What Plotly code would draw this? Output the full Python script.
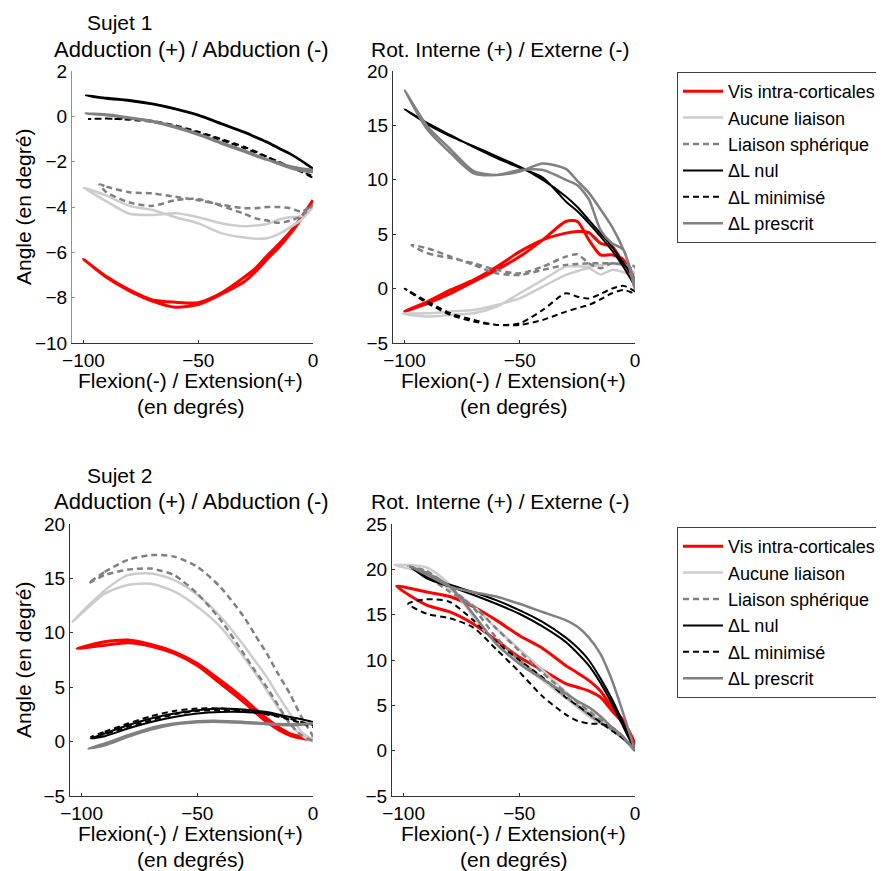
import plotly.graph_objects as go

# ---------------- data ----------------
SERIES = ["Vis intra-corticales", "Aucune liaison", "Liaison sphérique",
          "\u0394L nul", "\u0394L minimisé", "\u0394L prescrit"]
X_GRID = [-90, -80, -70, -60, -50, -40, -30, -25, -20, -15, -10, -5, 0]

# Sujet 1 - Adduction / Abduction   (start x, start y, branch A, branch B)
S1_ADD_START_X = [-100, -100, -93, -99, -98, -99]
S1_ADD_START_Y = [-6.3, -3.15, -3.0, 0.92, -0.12, 0.12]
S1_ADD_VIS_A = [-7.07, -7.66, -8.1, -8.2, -8.22, -7.8, -7.1, -6.7, -6.15, -5.65, -5.1, -4.45, -3.7]
S1_ADD_VIS_B = [-7.1, -7.7, -8.15, -8.42, -8.3, -7.85, -7.3, -6.85, -6.3, -5.8, -5.2, -4.5, -3.7]
S1_ADD_AUC_A = [-3.75, -4.3, -4.35, -4.28, -4.45, -4.72, -4.85, -4.82, -4.75, -4.55, -4.45, -4.4, -4.0]
S1_ADD_AUC_B = [-3.5, -3.95, -4.13, -4.45, -4.72, -5.15, -5.35, -5.4, -5.38, -5.2, -4.9, -4.55, -4.0]
S1_ADD_SPH_A = [-3.1, -3.35, -3.4, -3.55, -3.7, -3.9, -4.05, -4.05, -4.0, -4.0, -4.05, -4.2, -3.9]
S1_ADD_SPH_B = [-3.35, -3.8, -3.95, -3.7, -3.65, -3.95, -4.3, -4.5, -4.6, -4.7, -4.6, -4.4, -3.9]
S1_ADD_NUL_A = [0.82, 0.72, 0.57, 0.35, 0.07, -0.3, -0.68, -0.9, -1.12, -1.38, -1.63, -1.95, -2.3]
S1_ADD_NUL_B = [0.78, 0.68, 0.53, 0.31, 0.03, -0.34, -0.72, -0.94, -1.16, -1.42, -1.67, -1.98, -2.32]
S1_ADD_MIN_A = [-0.1, -0.12, -0.2, -0.4, -0.68, -1.0, -1.34, -1.55, -1.78, -2.0, -2.22, -2.45, -2.7]
S1_ADD_MIN_B = [-0.1, -0.15, -0.25, -0.45, -0.72, -1.05, -1.4, -1.6, -1.8, -2.02, -2.25, -2.45, -2.65]
S1_ADD_PRE_A = [0.05, -0.08, -0.24, -0.5, -0.82, -1.2, -1.56, -1.75, -1.92, -2.05, -2.2, -2.3, -2.37]
S1_ADD_PRE_B = [0.08, -0.05, -0.2, -0.45, -0.78, -1.15, -1.5, -1.7, -1.9, -2.1, -2.28, -2.4, -2.45]

# Sujet 1 - Rotation interne / externe
S1_ROT_START_X = [-100, -101, -97, -100, -100, -100]
S1_ROT_START_Y = [-2.1, -2.3, 4.0, 16.5, 0.0, 18.25]
S1_ROT_VIS_A = [-1.2, -0.12, 0.8, 2.0, 3.4, 4.48, 5.1, 5.25, 5.15, 4.17, 3.87, 2.33, 1.1]
S1_ROT_VIS_B = [-1.35, -0.43, 0.64, 1.72, 2.94, 4.48, 6.17, 6.17, 4.48, 3.1, 3.1, 2.64, 0.2]
S1_ROT_AUC_A = [-2.27, -2.1, -1.96, -1.5, -0.9, 0.18, 1.26, 1.6, 1.87, 1.3, 1.72, 1.5, 1.1]
S1_ROT_AUC_B = [-2.57, -2.42, -2.27, -1.66, -0.43, 0.8, 2.02, 2.05, 2.02, 2.15, 2.33, 2.1, 1.4]
S1_ROT_SPH_A = [3.25, 2.8, 2.33, 1.72, 1.4, 2.02, 2.94, 3.15, 2.33, 1.87, 2.33, 2.2, 1.72]
S1_ROT_SPH_B = [3.7, 2.94, 2.18, 1.4, 1.26, 1.72, 2.18, 2.25, 2.33, 2.33, 2.33, 2.2, 2.02]
S1_ROT_NUL_A = [15.1, 14.0, 13.1, 12.15, 11.2, 10.0, 8.47, 7.5, 6.3, 5.1, 3.87, 2.33, 0.8]
S1_ROT_NUL_B = [15.2, 14.1, 13.0, 12.0, 11.1, 10.2, 8.0, 7.1, 6.0, 4.8, 3.5, 2.0, 0.3]
S1_ROT_MIN_A = [-1.2, -2.27, -2.88, -3.34, -3.19, -1.96, -0.43, -0.74, -0.9, -0.5, 0.0, 0.25, -0.28]
S1_ROT_MIN_B = [-1.35, -2.42, -3.03, -3.34, -3.34, -2.88, -2.12, -1.8, -1.5, -1.0, -0.43, -0.12, -0.43]
S1_ROT_PRE_A = [14.9, 12.8, 10.8, 10.45, 10.77, 11.5, 11.0, 9.9, 8.8, 7.3, 5.7, 3.56, 0.5]
S1_ROT_PRE_B = [14.6, 12.45, 10.6, 10.45, 10.9, 10.9, 10.0, 9.5, 8.2, 5.4, 4.17, 3.56, -0.1]

# Sujet 2 - Adduction / Abduction
S2_ADD_START_X = [-102, -104, -97, -96, -96, -97]
S2_ADD_START_Y = [8.55, 11.0, 14.55, 0.28, 0.43, -0.64]
S2_ADD_VIS_A = [9.17, 9.33, 8.93, 8.25, 7.18, 5.64, 3.96, 3.0, 2.12, 1.35, 0.74, 0.43, 0.12]
S2_ADD_VIS_B = [8.86, 9.08, 8.77, 8.1, 7.0, 5.34, 3.65, 2.7, 1.81, 1.1, 0.58, 0.3, 0.12]
S2_ADD_AUC_A = [13.9, 15.3, 15.46, 14.85, 13.5, 11.5, 8.87, 7.4, 5.95, 4.2, 2.58, 0.9, 0.12]
S2_ADD_AUC_B = [13.6, 14.4, 14.5, 13.8, 12.4, 10.55, 7.8, 6.3, 4.72, 3.1, 1.66, 0.58, 0.0]
S2_ADD_SPH_A = [15.6, 16.7, 17.15, 17.0, 16.07, 14.2, 11.5, 9.8, 8.1, 6.2, 4.4, 2.27, 0.43]
S2_ADD_SPH_B = [15.3, 15.8, 15.9, 15.3, 13.6, 11.2, 8.1, 6.5, 5.0, 3.3, 1.66, 0.58, 0.12]
S2_ADD_NUL_A = [0.74, 1.5, 2.12, 2.58, 2.88, 3.04, 2.94, 2.85, 2.73, 2.5, 2.27, 2.05, 1.81]
S2_ADD_NUL_B = [0.5, 1.2, 1.81, 2.27, 2.58, 2.73, 2.73, 2.66, 2.58, 2.42, 2.27, 2.05, 1.81]
S2_ADD_MIN_A = [0.9, 1.66, 2.33, 2.82, 3.04, 3.04, 2.88, 2.75, 2.58, 2.35, 2.12, 1.8, 1.5]
S2_ADD_MIN_B = [0.67, 1.35, 1.96, 2.5, 2.82, 2.88, 2.82, 2.68, 2.5, 2.28, 2.02, 1.7, 1.35]
S2_ADD_PRE_A = [-0.18, 0.58, 1.26, 1.66, 1.87, 1.9, 1.81, 1.75, 1.66, 1.62, 1.6, 1.62, 1.66]
S2_ADD_PRE_B = [-0.34, 0.43, 1.1, 1.57, 1.78, 1.81, 1.72, 1.66, 1.6, 1.55, 1.5, 1.55, 1.66]

# Sujet 2 - Rotation interne / externe
S2_ROT_START_X = [-103, -104, -98, -97, -98, -97]
S2_ROT_START_Y = [18.15, 20.5, 20.3, 20.3, 16.2, 20.3]
S2_ROT_VIS_A = [17.5, 17.0, 15.9, 14.4, 12.7, 11.3, 9.4, 8.6, 7.75, 6.6, 4.8, 3.3, 0.7]
S2_ROT_VIS_B = [16.05, 15.3, 14.0, 12.2, 10.3, 8.9, 7.4, 7.0, 6.6, 5.9, 4.4, 2.95, 0.4]
S2_ROT_AUC_A = [20.2, 18.3, 14.8, 11.8, 9.8, 7.8, 5.8, 4.8, 3.8, 3.0, 2.3, 1.3, 0.0]
S2_ROT_AUC_B = [19.5, 17.8, 16.0, 13.5, 11.2, 8.9, 6.5, 5.4, 4.3, 3.4, 2.5, 1.4, 0.0]
S2_ROT_SPH_A = [19.8, 18.0, 15.8, 12.5, 10.0, 8.0, 6.0, 5.0, 4.0, 3.1, 2.3, 1.3, 0.0]
S2_ROT_SPH_B = [19.3, 17.5, 16.0, 13.5, 11.0, 8.6, 6.4, 5.4, 4.4, 3.4, 2.5, 1.4, 0.0]
S2_ROT_NUL_A = [19.2, 18.3, 17.5, 16.6, 15.5, 14.2, 12.5, 11.4, 10.0, 8.0, 5.7, 3.0, 0.0]
S2_ROT_NUL_B = [19.0, 18.1, 17.2, 16.2, 15.1, 13.7, 12.0, 10.8, 9.4, 7.5, 5.2, 2.6, 0.0]
S2_ROT_MIN_A = [16.7, 16.4, 14.4, 12.0, 10.0, 8.1, 5.9, 5.0, 4.06, 3.14, 2.2, 1.3, 0.2]
S2_ROT_MIN_B = [15.1, 14.6, 13.6, 11.2, 8.7, 6.0, 4.0, 3.3, 3.0, 2.95, 2.6, 1.5, 0.0]
S2_ROT_PRE_A = [19.4, 18.1, 17.5, 17.0, 16.2, 15.3, 14.4, 13.7, 12.5, 10.7, 7.8, 4.06, 0.0]
S2_ROT_PRE_B = [19.6, 18.1, 15.1, 11.8, 9.6, 7.9, 6.3, 5.5, 4.8, 3.8, 2.6, 1.5, 0.0]

PANELS = [
    (S1_ADD_START_X, S1_ADD_START_Y,
     [(S1_ADD_VIS_A, S1_ADD_VIS_B), (S1_ADD_AUC_A, S1_ADD_AUC_B), (S1_ADD_SPH_A, S1_ADD_SPH_B),
      (S1_ADD_NUL_A, S1_ADD_NUL_B), (S1_ADD_MIN_A, S1_ADD_MIN_B), (S1_ADD_PRE_A, S1_ADD_PRE_B)]),
    (S1_ROT_START_X, S1_ROT_START_Y,
     [(S1_ROT_VIS_A, S1_ROT_VIS_B), (S1_ROT_AUC_A, S1_ROT_AUC_B), (S1_ROT_SPH_A, S1_ROT_SPH_B),
      (S1_ROT_NUL_A, S1_ROT_NUL_B), (S1_ROT_MIN_A, S1_ROT_MIN_B), (S1_ROT_PRE_A, S1_ROT_PRE_B)]),
    (S2_ADD_START_X, S2_ADD_START_Y,
     [(S2_ADD_VIS_A, S2_ADD_VIS_B), (S2_ADD_AUC_A, S2_ADD_AUC_B), (S2_ADD_SPH_A, S2_ADD_SPH_B),
      (S2_ADD_NUL_A, S2_ADD_NUL_B), (S2_ADD_MIN_A, S2_ADD_MIN_B), (S2_ADD_PRE_A, S2_ADD_PRE_B)]),
    (S2_ROT_START_X, S2_ROT_START_Y,
     [(S2_ROT_VIS_A, S2_ROT_VIS_B), (S2_ROT_AUC_A, S2_ROT_AUC_B), (S2_ROT_SPH_A, S2_ROT_SPH_B),
      (S2_ROT_NUL_A, S2_ROT_NUL_B), (S2_ROT_MIN_A, S2_ROT_MIN_B), (S2_ROT_PRE_A, S2_ROT_PRE_B)]),
]

Y_RANGES = [[-10, 2], [-5, 20], [-5, 20], [-5, 25]]
Y_TICKS = [[2, 0, -2, -4, -6, -8, -10], [20, 15, 10, 5, 0, -5],
           [20, 15, 10, 5, 0, -5], [25, 20, 15, 10, 5, 0, -5]]
X_TICKS = [-100, -50, 0]

# ---------------- layout / styles ----------------
PAGE_OFF = 8                 # default body margin of the page
W, H = 884 - PAGE_OFF, 871 - PAGE_OFF
FONT = "Liberation Sans, Arial, Helvetica, sans-serif"
STYLES = [
    dict(color="#ff0000", width=3, dash="solid"),
    dict(color="#cccccc", width=2.5, dash="solid"),
    dict(color="#808080", width=2.5, dash="6px,4px"),
    dict(color="#000000", width=2, dash="solid"),
    dict(color="#000000", width=2, dash="6px,4px"),
    dict(color="#808080", width=2.5, dash="solid"),
]


def fx(px):
    return (px - PAGE_OFF) / W


def fy(py):
    return 1 - (py - PAGE_OFF) / H


# panel boxes in page pixels: (left, right, top, bottom)
BOXES = [(72, 313, 71, 343), (393, 635, 71, 343), (70, 313, 524, 796), (392, 635, 524, 796)]

fig = go.Figure()

for p, (sx, sy, series) in enumerate(PANELS):
    ax = "" if p == 0 else str(p + 1)
    for s, (ya, yb) in enumerate(series):
        xs = [sx[s]] + X_GRID + X_GRID[::-1] + [sx[s]]
        ys = [sy[s]] + ya + yb[::-1] + [sy[s]]
        fig.add_trace(go.Scatter(
            x=xs, y=ys, mode="lines", name=SERIES[s],
            line=dict(color=STYLES[s]["color"], width=STYLES[s]["width"],
                      dash=STYLES[s]["dash"], shape="spline", smoothing=0.7),
            xaxis="x" + ax, yaxis="y" + ax,
            showlegend=(p in (0, 2)),
            legend="legend" if p < 2 else "legend2",
            hoverinfo="skip",
        ))

for p, (l, r, t, b) in enumerate(BOXES):
    ax = "" if p == 0 else str(p + 1)
    ycol = "#909090" if p == 0 else "#333333"
    fig.update_layout(**{
        "xaxis" + ax: dict(domain=[fx(l), fx(r)], range=[-105, 0], anchor="y" + ax,
                           tickvals=X_TICKS, ticks="inside", ticklen=3, tickcolor="#333333",
                           showline=True, linecolor="#333333", linewidth=1,
                           showgrid=False, zeroline=False,
                           tickfont=dict(family=FONT, size=19, color="black")),
        "yaxis" + ax: dict(domain=[fy(b), fy(t)], range=Y_RANGES[p], anchor="x" + ax,
                           tickvals=Y_TICKS[p], ticks="inside", ticklen=3, tickcolor=ycol,
                           showline=True, linecolor=ycol, linewidth=1,
                           showgrid=False, zeroline=False,
                           tickfont=dict(family=FONT, size=19, color="black")),
    })

ann = []


def txt(x, y, s, size=21, angle=0):
    ann.append(dict(x=fx(x), y=fy(y), xref="paper", yref="paper", text=s,
                    showarrow=False, textangle=angle, xanchor="center", yanchor="middle",
                    font=dict(family=FONT, size=size, color="black")))


for top, subj in ((0, "Sujet 1"), (453, "Sujet 2")):
    txt(119, 22 + top, subj)
    txt(191, 49 + top, "Adduction (+) / Abduction (-)", size=22)
    txt(500, 49 + top, "Rot. Interne (+) / Externe (-)")
    txt(23, 207 + top, "Angle (en degré)", angle=-90)
    for cx in (190, 513):
        txt(cx, 380 + top, "Flexion(-) / Extension(+)")
        txt(cx, 406 + top, "(en degrés)")

leg = dict(xref="container", yref="container", xanchor="left", yanchor="top",
           bgcolor="white", bordercolor="#404040", borderwidth=1, itemwidth=40,
           font=dict(family=FONT, size=18, color="black"), tracegroupgap=0)
fig.update_layout(
    width=W, height=H,
    margin=dict(l=0, r=0, t=0, b=0, autoexpand=False),
    paper_bgcolor="white", plot_bgcolor="white",
    annotations=ann,
    legend=dict(x=fx(677), y=fy(72), **leg),
    legend2=dict(x=fx(677), y=fy(527), **leg),
)

fig.write_html("out.html")
